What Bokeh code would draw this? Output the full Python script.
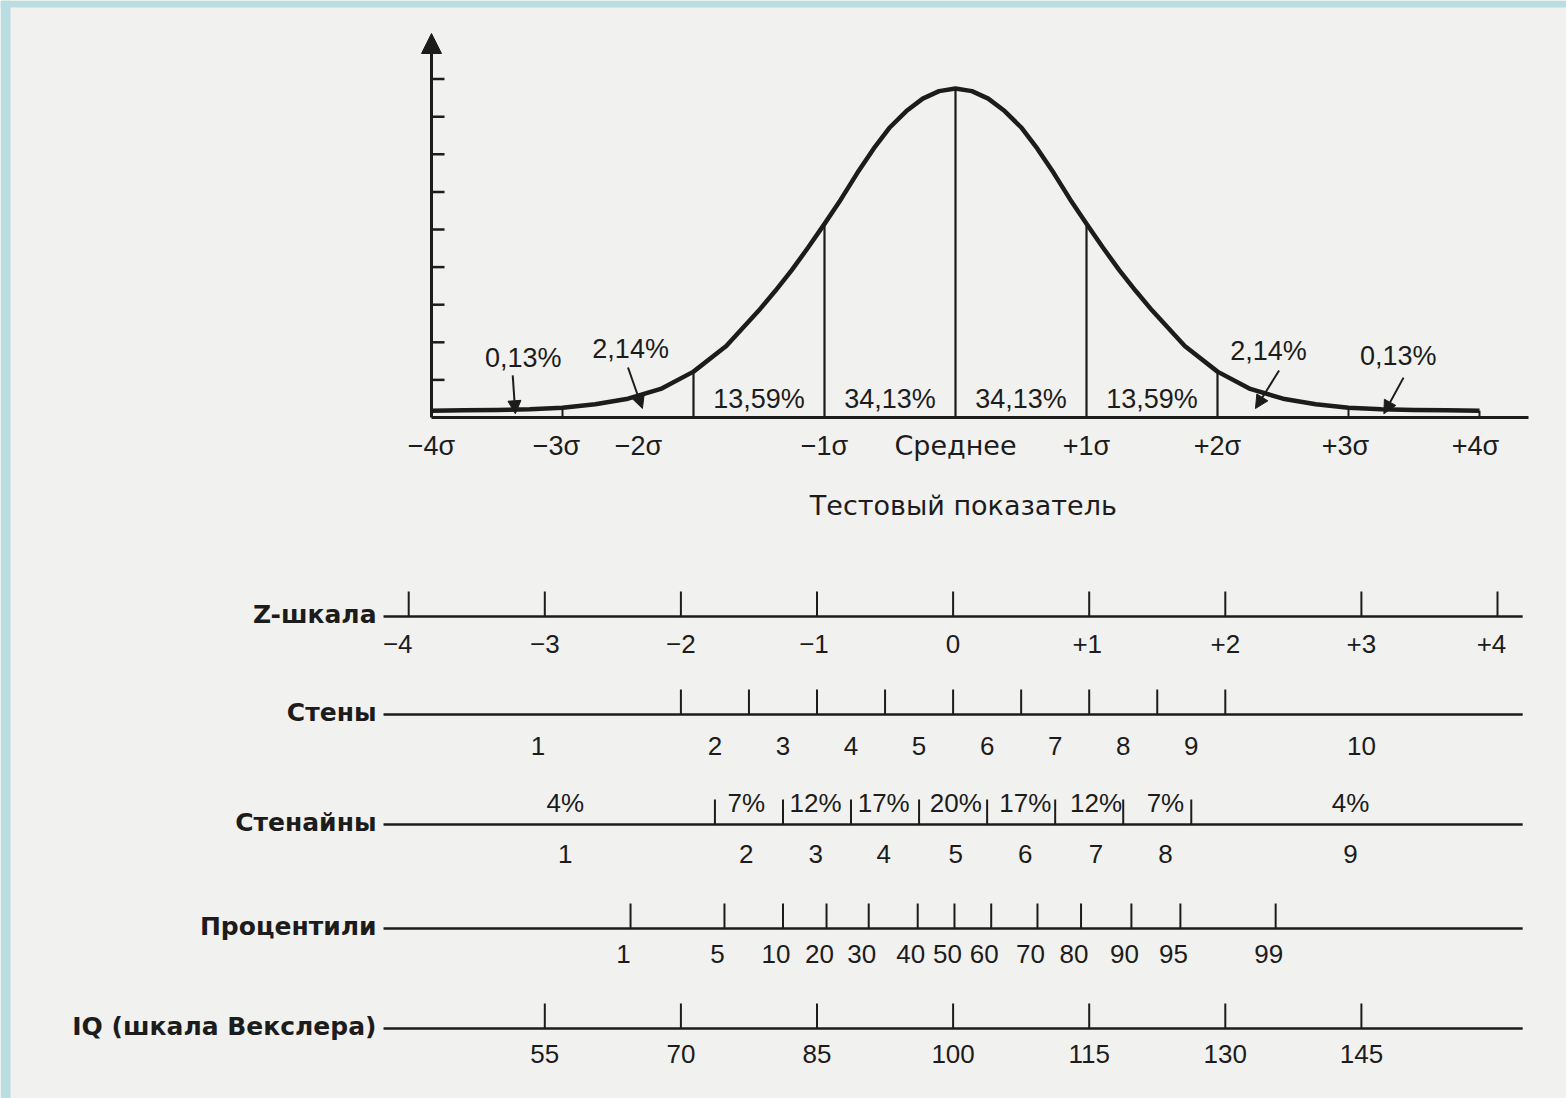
from bokeh.plotting import figure
from bokeh.models import Range1d, Arrow, NormalHead
from bokeh.embed import file_html
from bokeh.resources import INLINE
from bokeh.core.properties import value

# ---------------- data ----------------
# normal curve: sigma position -> height (in y-axis tick units)
curve_sigma = [-4, -3.75, -3.5, -3.25, -3, -2.75, -2.5, -2.25, -2, -1.75, -1.5,
               -1.375, -1.25, -1.125, -1, -0.875, -0.75, -0.625, -0.5, -0.375, -0.25, -0.125,
               0, 0.125, 0.25, 0.375, 0.5, 0.625, 0.75, 0.875, 1, 1.125, 1.25, 1.375,
               1.5, 1.75, 2, 2.25, 2.5, 2.75, 3, 3.25, 3.5, 3.75, 4]
curve_height = [0.18, 0.19, 0.20, 0.22, 0.26, 0.35, 0.50, 0.76, 1.22, 1.90, 2.85,
                3.37, 3.92, 4.52, 5.15, 5.80, 6.50, 7.15, 7.72, 8.15, 8.48, 8.68,
                8.75, 8.68, 8.48, 8.15, 7.72, 7.15, 6.50, 5.80, 5.15, 4.52, 3.92, 3.37,
                2.85, 1.90, 1.22, 0.76, 0.50, 0.35, 0.26, 0.22, 0.20, 0.19, 0.18]
yaxis_ticks = [1, 2, 3, 4, 5, 6, 7, 8, 9]

sigma_full_lines = [-2, -1, 0, 1, 2]
sigma_short_lines = [-3, 3, 4]
sigma_ticks = [-4, -3, -2, -1, 0, 1, 2, 3, 4]
sigma_labels = ["\u22124\u03c3", "\u22123\u03c3", "\u22122\u03c3", "\u22121\u03c3", "Среднее",
                "+1\u03c3", "+2\u03c3", "+3\u03c3", "+4\u03c3"]
sigma_label_shift = [0, -6, -55, 0, 0, 0, 0, -3, -4]

band_centers = [-1.5, -0.5, 0.5, 1.5]
band_pct = ["13,59%", "34,13%", "34,13%", "13,59%"]

tail_pct = ["0,13%", "2,14%", "2,14%", "0,13%"]
tail_label_sigma = [-3.3, -2.48, 2.39, 3.38]
tail_label_py = [357, 348, 350, 355]
tail_arrow_x0 = [-3.38, -2.50, 2.47, 3.42]
tail_arrow_y0 = [1.12, 1.33, 1.25, 1.06]
tail_arrow_x1 = [-3.36, -2.39, 2.29, 3.27]
tail_arrow_y1 = [0.10, 0.24, 0.24, 0.10]

# scales (positions in z units)
z_ticks = [-4, -3, -2, -1, 0, 1, 2, 3, 4]
z_labels = ["\u22124", "\u22123", "\u22122", "\u22121", "0", "+1", "+2", "+3", "+4"]
z_label_shift = [-11, 0, 0, -3, 0, -2, 0, 0, -6]

sten_bounds = [-2, -1.5, -1, -0.5, 0, 0.5, 1, 1.5, 2]
sten_labels = ["1", "2", "3", "4", "5", "6", "7", "8", "9", "10"]
sten_label_z = [-3.05, -1.75, -1.25, -0.75, -0.25, 0.25, 0.75, 1.25, 1.75, 3.0]

stanine_bounds = [-1.75, -1.25, -0.75, -0.25, 0.25, 0.75, 1.25, 1.75]
stanine_labels = ["1", "2", "3", "4", "5", "6", "7", "8", "9"]
stanine_pct = ["4%", "7%", "12%", "17%", "20%", "17%", "12%", "7%", "4%"]
stanine_label_z = [-2.85, -1.52, -1.01, -0.51, 0.02, 0.53, 1.05, 1.56, 2.92]

pct_labels = ["1", "5", "10", "20", "30", "40", "50", "60", "70", "80", "90", "95", "99"]
pct_tick_z = [-2.37, -1.68, -1.25, -0.93, -0.62, -0.26, 0.01, 0.28, 0.62, 0.94, 1.31, 1.67, 2.37]

iq_labels = ["55", "70", "85", "100", "115", "130", "145"]
iq_z = [-3, -2, -1, 0, 1, 2, 3]

row_names = ["Z-шкала", "Стены", "Стенайны", "Процентили", "IQ (шкала Векслера)"]

# ---------------- layout / style ----------------
INK = "#1c1c1c"
PAPER = "#f1f1ef"
FRAME = "#b9dde0"
FONT = "Liberation Sans"
WORD_FONT = "DejaVu Sans"
W, H = 1566, 1098
PX0, PY0 = 0, 0                 # page offset of the figure
BASE_PY, UNIT_PX = 417, 37.6    # curve baseline and y-tick spacing (page px)
MEAN_PX, SIG_PX = 955, 131      # curve x mapping
ZMID_PX, Z_PX = 952.6, 136.1    # scales x mapping
row_py = [616, 714, 824, 928, 1028]
ROW_HALF = 4.185
TICK = 25

p = figure(width=W, height=H, output_backend="svg", toolbar_location=None,
           x_axis_type=None, y_axis_type=None, min_border=0,
           x_range=Range1d((PX0 - MEAN_PX) / SIG_PX, (PX0 + W - MEAN_PX) / SIG_PX),
           y_range=Range1d((BASE_PY - (PY0 + H)) / UNIT_PX, (BASE_PY - PY0) / UNIT_PX),
           background_fill_color=PAPER, border_fill_color=PAPER, outline_line_color=None)
p.extra_x_ranges = {"z": Range1d((PX0 - ZMID_PX) / Z_PX, (PX0 + W - ZMID_PX) / Z_PX),
                    "pagex": Range1d(PX0, PX0 + W)}
p.extra_y_ranges = {"page": Range1d(PY0 + H, PY0)}

# scanned-page frame (cyan strips on the top and left edges)
p.quad(left=[0, 0], right=[10, W], top=[0, 0], bottom=[H, 7], x_range_name="pagex",
       y_range_name="page", fill_color=FRAME, line_color=None)

def txt(x, y, t, size="26px", xr="default", yr="page", align="center", bold=False,
        xoff=0, font=FONT):
    p.text(x=x, y=y, text=t, x_range_name=xr, y_range_name=yr,
           text_font=value(font), text_font_size=size, text_align=align,
           text_baseline="middle", text_color=INK, x_offset=xoff,
           text_font_style="bold" if bold else "normal")

# ---- curve part ----
h_at = dict(zip(curve_sigma, curve_height))
p.segment(x0=[-4], y0=[0], x1=[4.374], y1=[0], line_color=INK, line_width=3)
p.line(curve_sigma, curve_height, line_color=INK, line_width=4.5, line_join="round")
p.segment(x0=sigma_full_lines, y0=[0] * len(sigma_full_lines), x1=sigma_full_lines,
          y1=[h_at[s] for s in sigma_full_lines], line_color=INK, line_width=2.2)
p.segment(x0=sigma_short_lines, y0=[0] * len(sigma_short_lines), x1=sigma_short_lines,
          y1=[h_at[s] for s in sigma_short_lines], line_color=INK, line_width=2)
# y axis with arrow
p.add_layout(Arrow(x_start=-4, y_start=BASE_PY, x_end=-4, y_end=33, y_range_name="page",
                   line_color=INK, line_width=3,
                   end=NormalHead(size=20, fill_color=INK, line_color=INK)))
p.segment(x0=[-4] * len(yaxis_ticks), y0=yaxis_ticks, x1=[-4 + 13 / SIG_PX] * len(yaxis_ticks),
          y1=yaxis_ticks, line_color=INK, line_width=2.5)

# sigma labels
for s, lab, sh in zip(sigma_ticks, sigma_labels, sigma_label_shift):
    f = WORD_FONT if lab == "Среднее" else FONT
    txt([s], [445], [lab], size="27px", xoff=sh, font=f)
txt([0.06], [505], ["Тестовый показатель"], size="27px", font=WORD_FONT)
txt(band_centers, [398] * len(band_centers), band_pct, size="27px")
txt(tail_label_sigma, tail_label_py, tail_pct, size="27px")
for a, b, c, d in zip(tail_arrow_x0, tail_arrow_y0, tail_arrow_x1, tail_arrow_y1):
    p.add_layout(Arrow(x_start=a, y_start=b, x_end=c, y_end=d, line_color=INK, line_width=2,
                       end=NormalHead(size=13, fill_color=INK, line_color=INK)))

# ---- scales ----
for name, py in zip(row_names, row_py):
    p.segment(x0=[-ROW_HALF], y0=[py], x1=[ROW_HALF], y1=[py], x_range_name="z",
              y_range_name="page", line_color=INK, line_width=2.6)
    txt([-ROW_HALF], [py - 2], [name], size="25px", xr="z", align="right", bold=True,
        xoff=-7, font=WORD_FONT)

def ticks(zs, py):
    p.segment(x0=zs, y0=[py] * len(zs), x1=zs, y1=[py - TICK] * len(zs),
              x_range_name="z", y_range_name="page", line_color=INK, line_width=2)

ticks(z_ticks, row_py[0])
for z, lab, sh in zip(z_ticks, z_labels, z_label_shift):
    txt([z], [row_py[0] + 27], [lab], xr="z", xoff=sh)

ticks(sten_bounds, row_py[1])
txt(sten_label_z, [row_py[1] + 31] * len(sten_labels), sten_labels, xr="z")

ticks(stanine_bounds, row_py[2])
txt(stanine_label_z, [row_py[2] - 22] * len(stanine_pct), stanine_pct, xr="z")
txt(stanine_label_z, [row_py[2] + 29] * len(stanine_labels), stanine_labels, xr="z")

ticks(pct_tick_z, row_py[3])
txt(pct_tick_z, [row_py[3] + 25] * len(pct_labels), pct_labels, xr="z", xoff=-7)

ticks(iq_z, row_py[4])
txt(iq_z, [row_py[4] + 25] * len(iq_labels), iq_labels, xr="z")

html = file_html(p, INLINE, title="Нормальное распределение и шкалы")
open("out.html", "w").write(html)
